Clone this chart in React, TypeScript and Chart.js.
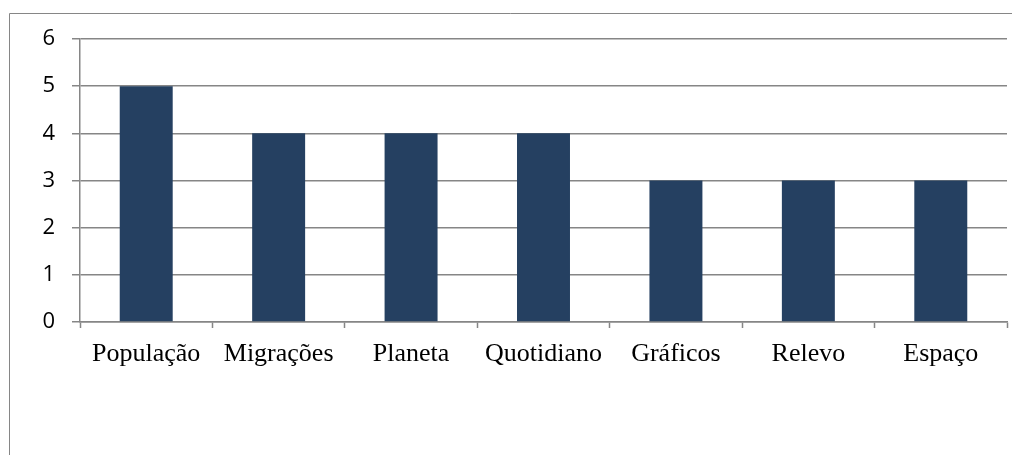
import React, { useEffect, useRef } from "react";
import { Chart, registerables } from "chart.js";

Chart.register(...registerables);

const categories = ["População", "Migrações", "Planeta", "Quotidiano", "Gráficos", "Relevo", "Espaço"];
const values = [5, 4, 4, 4, 3, 3, 3];
const yTicks = [0, 1, 2, 3, 4, 5, 6];

const frame = {
  id: "frame",
  beforeDraw(chart: any) {
    const ctx = chart.ctx;
    ctx.save();
    ctx.strokeStyle = "#868686";
    ctx.lineWidth = 1;
    ctx.beginPath();
    ctx.moveTo(9.5, 455);
    ctx.lineTo(9.5, 13.5);
    ctx.lineTo(1012, 13.5);
    ctx.stroke();
    ctx.restore();
  },
};

export default function App() {
  const ref = useRef<HTMLCanvasElement>(null);
  useEffect(() => {
    document.body.style.margin = "0";
    const chart = new Chart(ref.current!, {
      type: "bar",
      data: {
        labels: categories,
        datasets: [
          {
            data: values,
            backgroundColor: "#254061",
            barPercentage: 0.4,
            categoryPercentage: 1,
          },
        ],
      },
      options: {
        animation: false,
        responsive: false,
        layout: { padding: { left: 0, right: 5, top: 39, bottom: 0 } },
        plugins: { legend: { display: false }, tooltip: { enabled: false } },
        scales: {
          x: {
            grid: {
              offset: true,
              drawOnChartArea: false,
              drawTicks: true,
              tickLength: 6,
              tickColor: "#868686",
              tickWidth: 1.5,
            },
            border: { color: "#868686", width: 1.5 },
            ticks: {
              color: "#000",
              font: { family: "'Liberation Serif', 'Times New Roman', serif", size: 26 },
              padding: 11,
              maxRotation: 0,
              autoSkip: false,
            },
            afterFit(scale: any) {
              scale.height = 133;
            },
          },
          y: {
            min: 0,
            max: 6,
            afterBuildTicks(scale: any) {
              scale.ticks = yTicks.map((v) => ({ value: v }));
            },
            grid: {
              color: "#868686",
              lineWidth: 1.5,
              tickLength: 8,
              tickColor: "#868686",
            },
            border: { color: "#868686", width: 1.5 },
            ticks: {
              color: "#000",
              font: { family: "'Open Sans', 'Noto Sans', sans-serif", size: 22 },
              padding: 17,
            },
            afterFit(scale: any) {
              scale.width = 80;
            },
          },
        },
      },
      plugins: [frame],
    });
    return () => chart.destroy();
  }, []);
  return <canvas ref={ref} width={1012} height={455} style={{ display: "block" }} />;
}
